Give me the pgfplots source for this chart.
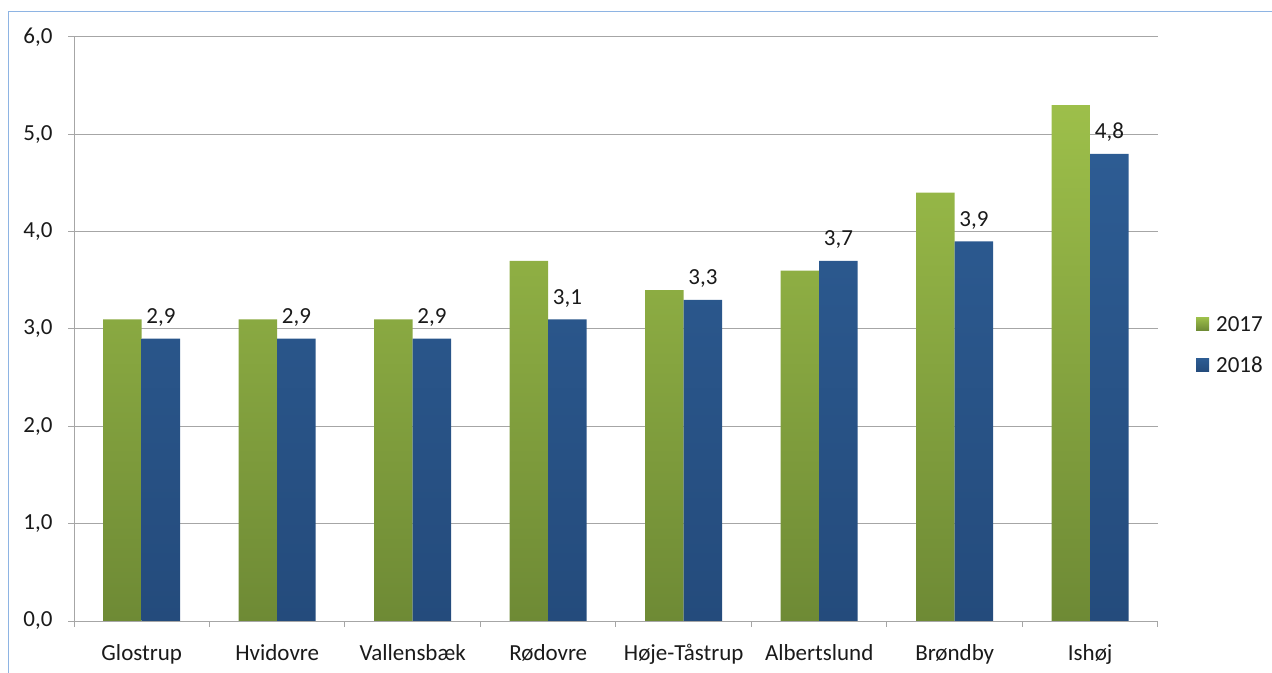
\documentclass[border=0pt]{standalone}
\usepackage{pgfplots}
\pgfplotsset{compat=1.18}
\usepackage{pgfplotstable}
\usepackage{fontspec}
\setmainfont{Carlito}
\definecolor{gA}{HTML}{9DBF4A}
\definecolor{gB}{HTML}{6E8A35}
\definecolor{bA}{HTML}{2D5C93}
\definecolor{bB}{HTML}{244B7C}
\definecolor{gridc}{HTML}{A6A6A6}
\definecolor{framec}{HTML}{8EB4E3}
\definecolor{txt}{HTML}{1A1A1A}

\pgfplotstableread{
x v17 v18
0 3.1 2.9
1 3.1 2.9
2 3.1 2.9
3 3.7 3.1
4 3.4 3.3
5 3.6 3.7
6 4.4 3.9
7 5.3 4.8
}\kommuner

\begin{document}
\begin{tikzpicture}
\path[use as bounding box] (0,0) rectangle (1272bp,673bp);
\begin{axis}[
  at={(74bp,52bp)},anchor=south west,
  scale only axis,width=1084bp,height=584bp,
  font=\fontsize{23bp}{27bp}\selectfont,
  /pgf/number format/assume math mode=true,
  ybar=0pt,bar width=38.5bp,
  xmin=-0.5,xmax=7.5,ymin=0,ymax=6,
  xtick={0,...,7},
  xticklabels={Glostrup,Hvidovre,Vallensbæk,Rødovre,Høje-Tåstrup,Albertslund,Brøndby,Ishøj},
  minor xtick={-0.5,0.5,...,7.5},
  major x tick style={draw=none},
  minor tick length=6bp,major tick length=6bp,
  ytick={0,1,...,6},
  yticklabel style={xshift=-12bp,text=txt,/pgf/number format/.cd,fixed,fixed zerofill,precision=1,use comma},
  axis x line*=bottom,axis y line*=left,
  axis line style={-,draw=gridc,line width=1bp},
  tick style={draw=gridc,line width=1bp},
  tick align=outside,
  ymajorgrids,grid style={gridc,line width=1bp},
  xticklabel style={yshift=-14bp,text=txt},
  legend style={at={(1.035,0.4726)},anchor=west,draw=none,fill=none,
    inner sep=0pt,row sep=20bp,text=txt,
    /tikz/every odd column/.append style={column sep=5bp}},
  legend cell align=left,
]
\addplot[draw=none,top color=gA,bottom color=gB,
  legend image code/.code={\fill[gA!80!gB] (0bp,-6bp) rectangle (13bp,7bp);}]
  table[x=x,y=v17]{\kommuner};
\addplot[draw=none,top color=bA,bottom color=bB,
  nodes near coords,
  every node near coord/.append style={anchor=base,yshift=15bp,font=\fontsize{23bp}{27bp}\selectfont,text=txt},
  nodes near coords style={/pgf/number format/.cd,fixed,fixed zerofill,precision=1,use comma},
  legend image code/.code={\fill[bA] (0bp,-6bp) rectangle (13bp,7bp);}]
  table[x=x,y=v18]{\kommuner};
\legend{2017,2018}
\end{axis}
\draw[framec,line width=1bp] (8.5bp,0) -- (8.5bp,661.5bp) -- (1272bp,661.5bp);
\end{tikzpicture}
\end{document}
